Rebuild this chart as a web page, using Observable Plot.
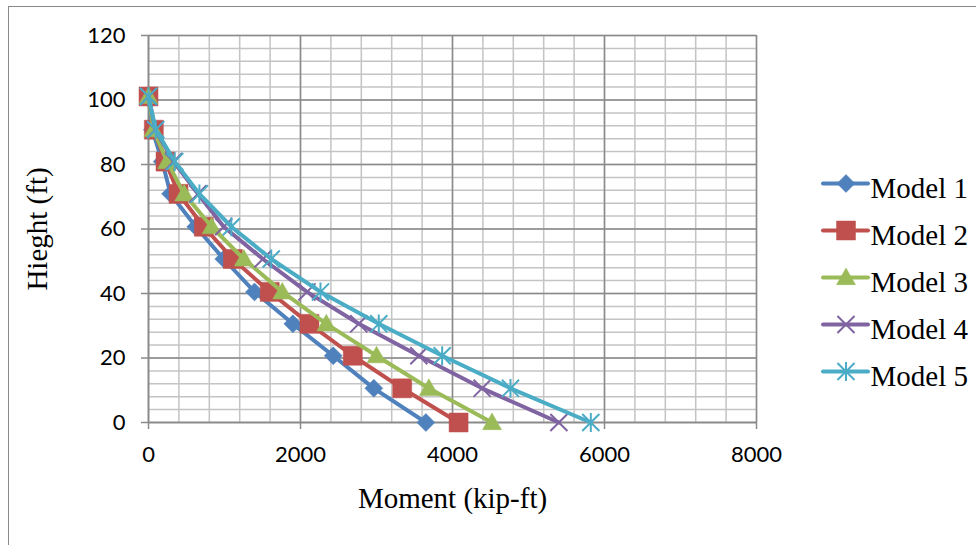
<!DOCTYPE html>
<html>
<head>
<meta charset="utf-8">
<script src="https://cdn.jsdelivr.net/npm/d3@7"></script>
<script src="https://cdn.jsdelivr.net/npm/@observablehq/plot@0.6"></script>
<style>
  html, body { margin: 0; padding: 0; background: #fff; }
  body { width: 976px; height: 545px; position: relative; overflow: hidden; }
  #frame { position: absolute; left: 8px; top: 6px; width: 1200px; height: 800px; border: 1.5px solid #8a8a8a; box-sizing: border-box; }
  #chart { position: absolute; left: 0; top: 0; }
  #legend { position: absolute; left: 815px; top: 160px; }
  svg { overflow: visible; }
</style>
</head>
<body>
<div id="frame"></div>
<div id="chart"></div>
<div id="legend"></div>
<script>
// ---- data ----
const models = ["Model 1", "Model 2", "Model 3", "Model 4", "Model 5"];
const heights = [0, 10.6, 20.7, 30.6, 40.5, 50.7, 60.7, 70.9, 80.9, 90.8, 101.1];
const model1 = [3650, 2965, 2430, 1900, 1395, 990, 622, 290, 180, 50, 0];
const model2 = [4080, 3338, 2688, 2118, 1595, 1110, 728, 395, 224, 70, 0];
const model3 = [4520, 3689, 3000, 2340, 1760, 1254, 830, 470, 245, 65, 0];
const model4 = [5400, 4390, 3557, 2767, 2085, 1505, 990, 650, 330, 90, 0];
const model5 = [5820, 4763, 3864, 3030, 2263, 1615, 1090, 670, 345, 95, 0];
const xTicks = [0, 2000, 4000, 6000, 8000];
const yTicks = [0, 20, 40, 60, 80, 100, 120];
const xTitle = "Moment (kip-ft)";
const yTitle = "Hieght (ft)";

const series = [model1, model2, model3, model4, model5];
const colors = ["#4F81BD", "#C0504D", "#9BBB59", "#8064A2", "#4BACC6"];

// ---- Excel-like marker symbols (radius = r of the dot) ----
const R = (size) => Math.sqrt(size / Math.PI);
const symDiamond = {draw(c, s) { const r = R(s); c.moveTo(0, -r); c.lineTo(r, 0); c.lineTo(0, r); c.lineTo(-r, 0); c.closePath(); }};
const symSquare = {draw(c, s) { const r = R(s); c.moveTo(-r, -r); c.lineTo(r, -r); c.lineTo(r, r); c.lineTo(-r, r); c.closePath(); }};
const symTriangle = {draw(c, s) { const r = R(s); c.moveTo(0, -r); c.lineTo(r, r * 0.75); c.lineTo(-r, r * 0.75); c.closePath(); }};
const symX = {draw(c, s) { const r = R(s) * 0.9; c.moveTo(-r, -r); c.lineTo(r, r); c.moveTo(-r, r); c.lineTo(r, -r); }};
const symStar = {draw(c, s) { const r = R(s) * 0.9; c.moveTo(-r, -r); c.lineTo(r, r); c.moveTo(-r, r); c.lineTo(r, -r); c.moveTo(0, -r * 1.1); c.lineTo(0, r * 1.1); }};
const symbols = [symDiamond, symSquare, symTriangle, symX, symStar];
const filled = [true, true, true, false, false];
const sizes = [9, 9.5, 9.5, 9.5, 9.5];

function dotOpts(i, x, y) {
  return filled[i]
    ? {x, y, symbol: symbols[i], r: sizes[i], fill: colors[i], stroke: colors[i], strokeWidth: 0.5}
    : {x, y, symbol: symbols[i], r: sizes[i], fill: "none", stroke: colors[i], strokeWidth: 2};
}

const minorX = d3.range(0, 8001, 400);
const minorY = d3.range(0, 121, 4);

const marks = [
  Plot.gridX(minorX, {stroke: "#c4c4c4", strokeOpacity: 1, strokeWidth: 1.5}),
  Plot.gridY(minorY, {stroke: "#c4c4c4", strokeOpacity: 1, strokeWidth: 1.5}),
  Plot.gridX(xTicks, {stroke: "#8a8a8a", strokeOpacity: 1, strokeWidth: 1.5}),
  Plot.gridY(yTicks, {stroke: "#8a8a8a", strokeOpacity: 1, strokeWidth: 1.5}),
  Plot.ruleX([0], {stroke: "#8a8a8a", strokeWidth: 1.5}),
  Plot.ruleY([0], {stroke: "#8a8a8a", strokeWidth: 1.5}),
  Plot.axisX(xTicks, {tickSize: 7, tickPadding: 17, fontSize: 22, stroke: "#8a8a8a", strokeWidth: 1.5, fill: "#000", label: null, tickFormat: d => String(d)}),
  Plot.axisY(yTicks, {tickSize: 7, tickPadding: 16, fontSize: 22, stroke: "#8a8a8a", strokeWidth: 1.5, fill: "#000", label: null, tickFormat: d => String(d)}),
  Plot.text([xTitle], {frameAnchor: "bottom", dy: 76, textAnchor: "middle", fontFamily: "Liberation Serif", fontSize: 29, fill: "#000", lineAnchor: "middle", text: d => d}),
  Plot.text([yTitle], {frameAnchor: "left", dx: -111, rotate: -90, textAnchor: "middle", fontFamily: "Liberation Serif", fontSize: 29, fill: "#000", lineAnchor: "middle", text: d => d})
];

series.forEach((vals, i) => {
  const data = heights.map((h, j) => ({m: vals[j], h}));
  marks.push(Plot.line(data, {x: "m", y: "h", stroke: colors[i], strokeWidth: 4, strokeLinejoin: "round", strokeLinecap: "round"}));
  marks.push(Plot.dot(data, dotOpts(i, "m", "h")));
});

const chart = Plot.plot({
  width: 976,
  height: 545,
  marginLeft: 148,
  marginRight: 220,
  marginTop: 35,
  marginBottom: 123,
  x: {domain: [0, 8000]},
  y: {domain: [0, 120]},
  style: {background: "transparent", fontFamily: "Lato", color: "#000"},
  marks
});
document.getElementById("chart").appendChild(chart);

// ---- legend ----
const legMarks = [];
models.forEach((m, i) => {
  legMarks.push(Plot.ruleY([m], {x1: 0, x2: 1, y: d => d, stroke: colors[i], strokeWidth: 4, strokeLinecap: "round"}));
  legMarks.push(Plot.dot([m], dotOpts(i, () => 0.5, d => d)));
});
legMarks.push(Plot.text(models, {x: 1, y: d => d, text: d => d, textAnchor: "start", dx: 2, dy: 5, lineAnchor: "middle", fontFamily: "Liberation Serif", fontSize: 29, fill: "#000"}));

const legend = Plot.plot({
  width: 161,
  height: 230,
  margin: 0,
  x: {domain: [0, 1], range: [8, 53], axis: null},
  y: {type: "point", domain: models, range: [22, 212], padding: 0, axis: null},
  style: {background: "transparent", color: "#000"},
  marks: legMarks
});
document.getElementById("legend").appendChild(legend);
</script>
</body>
</html>
